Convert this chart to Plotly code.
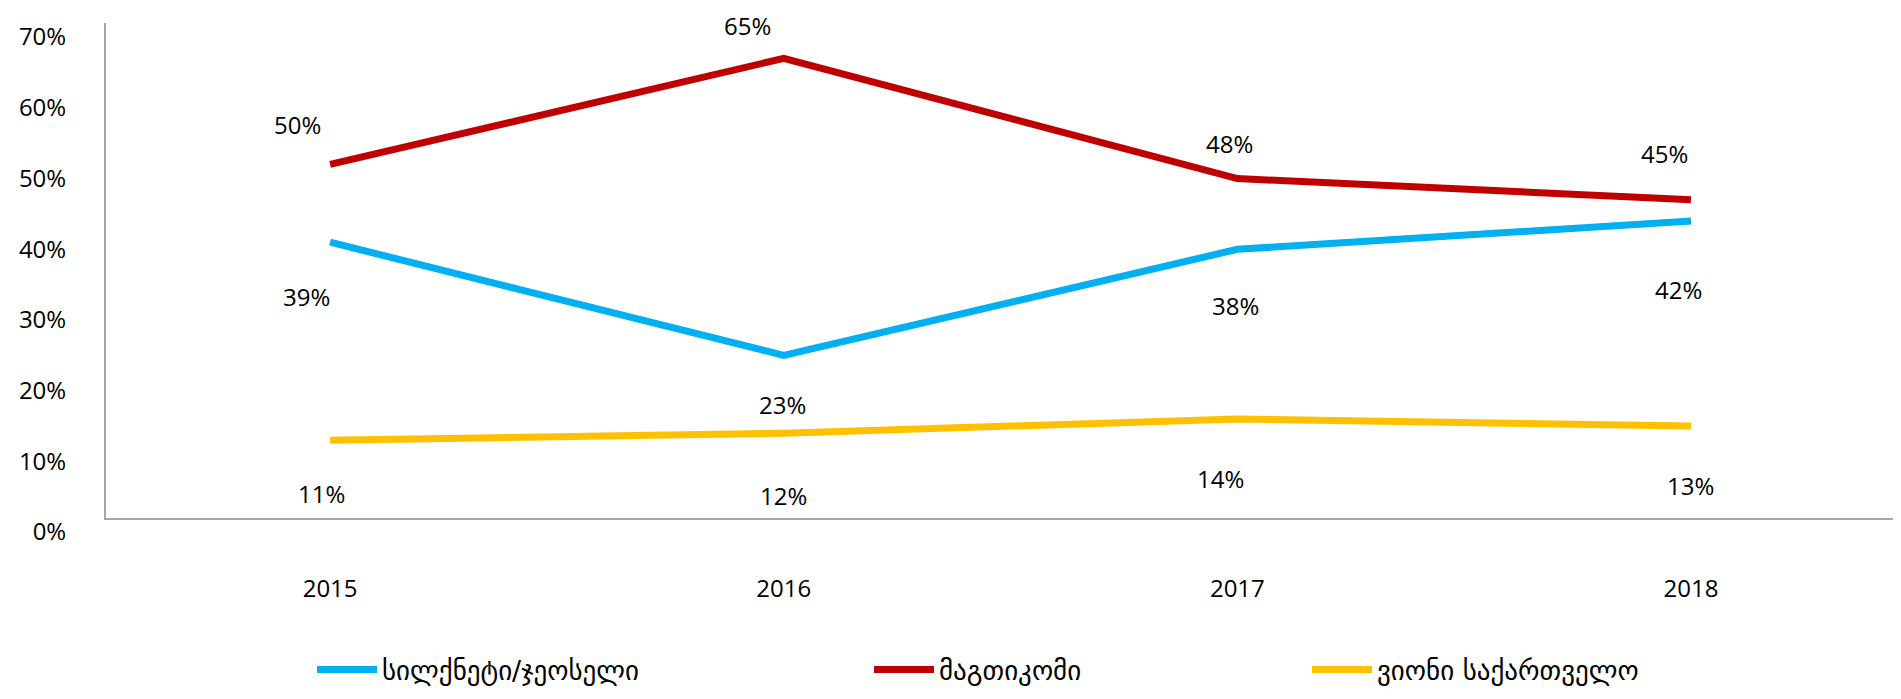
import plotly.graph_objects as go

# data
years = [2015, 2016, 2017, 2018]
silknet = [0.39, 0.23, 0.38, 0.42]
magticom = [0.50, 0.65, 0.48, 0.45]
beeline = [0.11, 0.12, 0.14, 0.13]
names = ["სილქნეტი/ჯეოსელი", "მაგთიკომი", "ვიონი საქართველო"]
y_ticks = [0, 0.1, 0.2, 0.3, 0.4, 0.5, 0.6, 0.7]

# style
colors = ["#00B0F0", "#C00000", "#FFC000"]
label_font = dict(family="Open Sans, sans-serif", size=24, color="#000000")
geo_font = dict(family="DejaVu Sans, sans-serif", size=27, color="#000000")
# label offsets (px) per point, Excel-ish manual placement
label_shift = [
    [(-24, -54), (-1, -49), (-2, -56), (-12, -68)],
    [(-33, 40), (-36, 33), (-8, 35), (-26, 46)],
    [(-9, -53), (0, -62), (-17, -59), (0, -59)],
]
legend_px = [322, 879, 1317]  # page x of each legend symbol start
legend_py = 670

# page has an 8px body margin, so the figure is a bit smaller
W, H = 1893, 691
PLOT_L, PLOT_R, PLOT_T, PLOT_B = 106, 1901, 23, 518  # page coords

fig = go.Figure()
series = [silknet, magticom, beeline]
legend_ids = ["legend", "legend2", "legend3"]

for i, vals in enumerate(series):
    fig.add_trace(go.Scatter(
        x=years, y=vals, mode="lines", name=names[i],
        line=dict(color=colors[i], width=7),
        legend=legend_ids[i],
        hoverinfo="skip",
    ))
    for j, v in enumerate(vals):
        dx, dy = label_shift[i][j]
        fig.add_annotation(
            x=years[j], y=v, text=f"{round(v * 100)}%",
            showarrow=False, xshift=dx, yshift=dy, font=label_font,
        )

def leg(px):
    return dict(
        orientation="h",
        x=(px - 10 - PLOT_L) / (PLOT_R - PLOT_L),
        y=(PLOT_B - legend_py) / (PLOT_B - PLOT_T),
        yanchor="middle", xanchor="left", font=geo_font,
        bgcolor="rgba(0,0,0,0)", itemwidth=60,
    )

fig.update_layout(
    showlegend=True,
    legend=leg(legend_px[0]),
    legend2=leg(legend_px[1]),
    legend3=leg(legend_px[2]),
    template="none",
    width=W, height=H,
    plot_bgcolor="white", paper_bgcolor="white",
    margin=dict(l=PLOT_L - 8, r=0, t=PLOT_T - 8, b=H - (PLOT_B - 8)),
    font=label_font,
)

fig.update_xaxes(
    range=[2014.506, 2018.463], tickvals=years,
    showgrid=False, zeroline=False,
    showline=True, linecolor="#A6A6A6", linewidth=2,
    ticks="", ticklabelstandoff=48, tickfont=label_font,
)
fig.update_yaxes(
    range=[0, 0.7], tickvals=y_ticks, tickformat=".0%",
    showgrid=False, zeroline=False,
    showline=True, linecolor="#A6A6A6", linewidth=2,
    ticks="", ticklabelstandoff=33, ticklabelshift=14, tickfont=label_font,
)

fig.write_html("out.html")
